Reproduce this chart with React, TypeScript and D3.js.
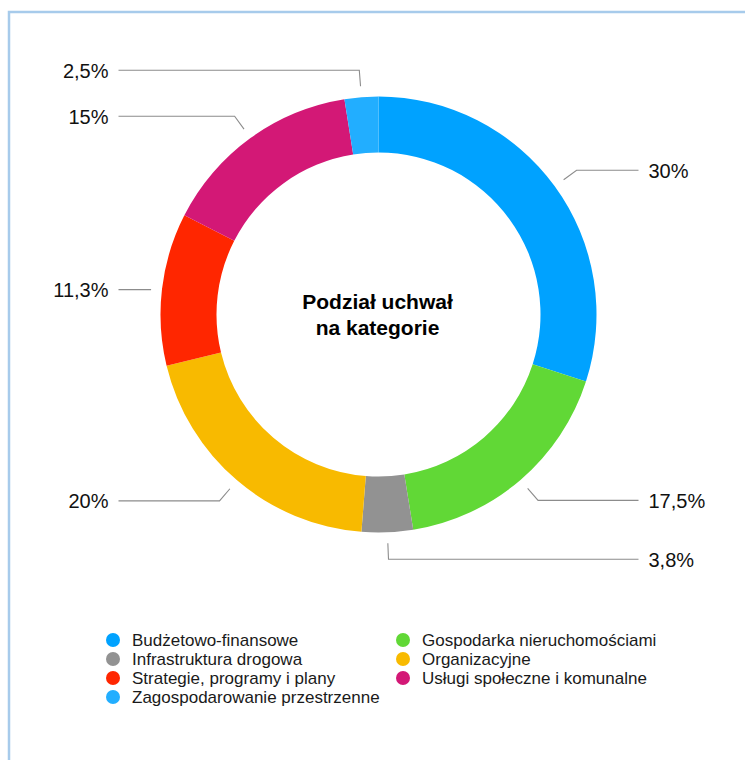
import React from "react";
import * as d3 from "d3";

const categories = [
  "Budżetowo-finansowe",
  "Gospodarka nieruchomościami",
  "Infrastruktura drogowa",
  "Organizacyjne",
  "Strategie, programy i plany",
  "Usługi społeczne i komunalne",
  "Zagospodarowanie przestrzenne",
];
const values = [30, 17.5, 3.8, 20, 11.3, 15, 2.5];
const valueLabels = ["30%", "17,5%", "3,8%", "20%", "11,3%", "15%", "2,5%"];
const palette = ["#00A2FF", "#61D836", "#929292", "#F8BA00", "#FF2600", "#D31876", "#22AEFF"];
const titleLines = ["Podział uchwał", "na kategorie"];
// legend order: two columns
const legendColumns = [
  [0, 2, 4, 6],
  [1, 3, 5],
];

const W = 745;
const H = 760;
const cx = 378.5;
const cy = 314.5;
const outerR = 218;
const innerR = 162;
const FONT = "'Liberation Sans', Arial, Helvetica, sans-serif";

export default function App() {
  const pie = d3
    .pie<number>()
    .value((d) => d)
    .sort(null)
    .startAngle(0)
    .endAngle(2 * Math.PI);
  const arcs = pie(values);
  const arcGen = d3.arc<d3.PieArcDatum<number>>().innerRadius(innerR).outerRadius(outerR);

  const pt = (a: number, r: number): [number, number] => [
    cx + r * Math.sin(a),
    cy - r * Math.cos(a),
  ];

  const legendX = [113, 403];
  const legendY0 = 640;
  const legendDy = 19;

  return (
    <div style={{ position: "absolute", left: 0, top: 0 }}>
      <svg width={W} height={H} style={{ display: "block", background: "#fff" }}>
        <rect x={9} y={12} width={W + 20} height={H + 20} fill="none" stroke="#A7CBEB" strokeWidth={2.5} />
        <g>
          {arcs.map((a, i) => (
            <path key={i} d={arcGen(a) || ""} transform={`translate(${cx},${cy})`} fill={palette[i]} />
          ))}
        </g>
        <g>
          {arcs.map((a, i) => {
            const mid = (a.startAngle + a.endAngle) / 2;
            const [sx, sy0] = pt(mid, 229);
            const flat = Math.abs(Math.cos(mid)) < 0.2;
            const sy = flat ? sy0 + 2 : sy0;
            const [ex, ey] = flat ? [sx, sy] : pt(mid, 245);
            const right = Math.sin(mid) > 0;
            const lx = right ? cx + 260 : cx - 260;
            const path = d3.line()([
              [sx, sy],
              [ex, ey],
              [lx, ey],
            ]);
            return (
              <g key={i}>
                <path d={path || ""} fill="none" stroke="#8C8C8C" strokeWidth={1.1} />
                <text
                  x={right ? lx + 10 : lx - 10}
                  y={ey + 0.5}
                  dominantBaseline="central"
                  textAnchor={right ? "start" : "end"}
                  fontFamily={FONT}
                  fontSize={20}
                  fill="#111"
                >
                  {valueLabels[i]}
                </text>
              </g>
            );
          })}
        </g>
        <g>
          {titleLines.map((t, i) => (
            <text
              key={i}
              x={cx - 1}
              y={309 + i * 26}
              textAnchor="middle"
              fontFamily={FONT}
              fontWeight="bold"
              fontSize={21}
              fill="#000"
            >
              {t}
            </text>
          ))}
        </g>
        <g>
          {legendColumns.map((col, ci) =>
            col.map((idx, ri) => (
              <g key={`${ci}-${ri}`} transform={`translate(${legendX[ci]},${legendY0 + ri * legendDy})`}>
                <circle cx={0} cy={0} r={7} fill={palette[idx]} />
                <text
                  x={19}
                  y={0}
                  dominantBaseline="central"
                  fontFamily={FONT}
                  fontSize={17}
                  fill="#1a1a1a"
                >
                  {categories[idx]}
                </text>
              </g>
            ))
          )}
        </g>
      </svg>
    </div>
  );
}
